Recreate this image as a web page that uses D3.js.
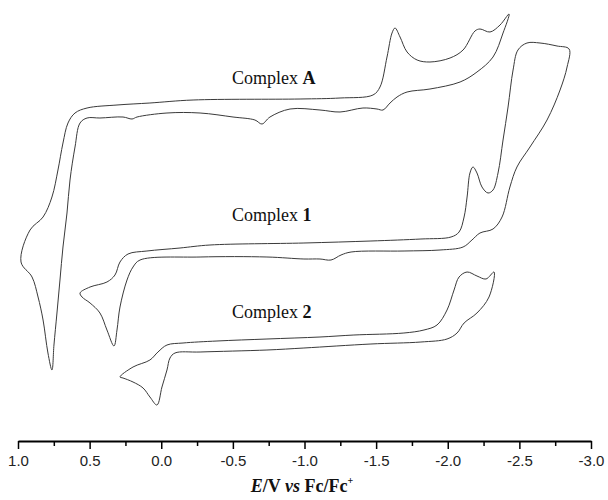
<!DOCTYPE html>
<html lang="en">
<head>
<meta charset="utf-8">
<script src="https://d3js.org/d3.v7.min.js"></script>
<style>
  body { margin: 0; background: #fff; }
  svg { display: block; }
</style>
</head>
<body>
<script>

// potential axis ticks (V vs Fc/Fc+)
const majorTicks = [1.0, 0.5, 0.0, -0.5, -1.0, -1.5, -2.0, -2.5, -3.0];
const minorTicks = [0.75, 0.25, -0.25, -0.75, -1.25, -1.75, -2.25, -2.75];

// voltammograms, [E, current] with the stacking offset included (arbitrary units)
const complexA = [
  [0.979, 17.8], [0.916, 21.0], [0.825, 22.3], [0.763, 24.3], [0.721, 27.0], [0.686, 29.7],
  [0.651, 31.7], [0.602, 32.7], [0.518, 33.2], [0.309, 33.5], [0.079, 33.7], [-0.222, 34.0],
  [-0.969, 34.1], [-1.248, 34.2], [-1.478, 34.5], [-1.527, 35.3], [-1.576, 38.3], [-1.611, 40.7],
  [-1.632, 41.2], [-1.667, 40.3], [-1.716, 38.8], [-1.786, 38.0], [-1.876, 37.8], [-2.016, 38.2],
  [-2.107, 39.0], [-2.190, 40.9], [-2.225, 41.1], [-2.295, 40.8], [-2.365, 41.5], [-2.428, 42.6],
  [-2.386, 40.7], [-2.316, 38.3], [-2.204, 36.8], [-2.086, 35.8], [-1.876, 35.1], [-1.716, 34.8],
  [-1.646, 34.3], [-1.597, 33.7], [-1.548, 33.0], [-1.506, 33.1], [-1.408, 33.2], [-1.248, 32.8],
  [-1.108, 33.0], [-0.899, 33.1], [-0.759, 32.3], [-0.703, 31.6], [-0.654, 32.0], [-0.501, 32.3],
  [-0.271, 32.7], [-0.040, 32.7], [0.169, 32.3], [0.204, 32.1], [0.267, 32.3], [0.428, 32.2],
  [0.518, 32.2], [0.567, 31.7], [0.602, 29.3], [0.637, 26.0], [0.658, 22.7], [0.686, 19.3],
  [0.707, 16.0], [0.728, 12.7], [0.749, 9.5], [0.763, 7.0], [0.791, 8.7], [0.825, 12.0],
  [0.860, 14.3], [0.902, 16.3]
];

const complex1 = [
  [0.567, 14.7], [0.497, 15.3], [0.379, 15.8], [0.323, 16.5], [0.288, 17.8], [0.232, 18.6],
  [0.100, 18.9], [-0.131, 19.2], [-0.340, 19.5], [-0.996, 19.7], [-1.464, 19.9], [-1.813, 20.1],
  [-2.023, 20.3], [-2.079, 20.8], [-2.114, 22.3], [-2.135, 24.3], [-2.155, 26.7], [-2.176, 27.3],
  [-2.204, 26.7], [-2.239, 25.3], [-2.281, 24.7], [-2.316, 25.0], [-2.351, 26.7], [-2.386, 30.0],
  [-2.421, 33.3], [-2.456, 37.0], [-2.490, 39.0], [-2.553, 39.7], [-2.644, 39.7], [-2.763, 39.4],
  [-2.847, 39.1], [-2.833, 37.3], [-2.784, 35.0], [-2.693, 32.0], [-2.574, 29.3], [-2.483, 27.3],
  [-2.434, 25.3], [-2.379, 22.3], [-2.316, 21.1], [-2.225, 20.7], [-2.169, 20.0], [-2.107, 19.3],
  [-1.946, 19.0], [-1.695, 18.9], [-1.325, 18.8], [-1.255, 18.5], [-1.185, 18.0], [-1.108, 18.1],
  [-0.996, 18.1], [-0.738, 18.3], [-0.271, 18.3], [0.148, 18.0], [0.197, 17.3], [0.239, 16.0],
  [0.288, 13.3], [0.309, 11.0], [0.330, 9.4], [0.379, 11.0], [0.428, 12.7], [0.497, 13.7],
  [0.553, 14.3]
];

const complex2 = [
  [0.288, 6.3], [0.197, 7.3], [0.079, 8.0], [0.023, 8.8], [-0.040, 9.5], [-0.152, 9.7],
  [-0.389, 9.9], [-0.738, 10.1], [-1.108, 10.3], [-1.345, 10.5], [-1.694, 10.7], [-1.834, 11.0],
  [-1.925, 11.5], [-1.995, 13.0], [-2.044, 15.0], [-2.079, 16.3], [-2.135, 16.8], [-2.204, 16.4],
  [-2.267, 16.1], [-2.323, 16.8], [-2.288, 14.3], [-2.204, 12.7], [-2.114, 11.7], [-2.065, 10.7],
  [-1.995, 10.1], [-1.813, 9.8], [-1.464, 9.6], [-0.996, 9.2], [-0.738, 9.0], [-0.271, 8.8],
  [-0.096, 8.7], [-0.061, 8.2], [-0.040, 7.0], [-0.005, 5.3], [0.030, 3.5], [0.079, 4.3],
  [0.127, 5.2], [0.197, 5.8], [0.267, 6.2]
];

const curveNames = ["A", "1", "2"];
const labelE = [-0.494, -0.494, -0.494];
const labelI = [35.6, 21.9, 12.2];

const width = 608, height = 500;

const svg = d3.select("body").append("svg")
  .attr("width", width)
  .attr("height", height);

const x = d3.scaleLinear().domain([1.0, -3.0]).range([18, 591]);
const y = d3.scaleLinear().domain([0, 44]).range([440, 0]);

const line = d3.line()
  .x(d => x(d[0]))
  .y(d => y(d[1]))
  .curve(d3.curveCatmullRomClosed.alpha(0.5));

svg.selectAll("path.cv")
  .data([complexA, complex1, complex2])
  .enter()
  .append("path")
  .attr("class", "cv")
  .attr("fill", "none")
  .attr("stroke", "#3a3a3a")
  .attr("stroke-width", 1)
  .attr("d", line);

// curve labels
const lab = svg.selectAll("text.lab")
  .data(curveNames)
  .enter()
  .append("text")
  .attr("class", "lab")
  .attr("x", (d, i) => x(labelE[i]))
  .attr("y", (d, i) => y(labelI[i]))
  .attr("font-family", "'Liberation Serif', 'Times New Roman', serif")
  .attr("font-size", 18)
  .attr("fill", "#111");
lab.append("tspan").text("Complex ");
lab.append("tspan").attr("font-weight", "bold").text(d => d);

// x axis
const axisY = 441;
svg.append("g")
  .attr("transform", "translate(0," + axisY + ")")
  .call(d3.axisBottom(x).tickValues(minorTicks).tickSize(5).tickFormat(""))
  .call(g => g.select(".domain").remove())
  .call(g => g.selectAll("line").attr("stroke", "#000").attr("stroke-width", 1.5));

const ax = svg.append("g")
  .attr("transform", "translate(0," + axisY + ")")
  .call(d3.axisBottom(x).tickValues(majorTicks).tickSize(8).tickSizeOuter(0)
    .tickPadding(6).tickFormat(d => d.toFixed(1)));
ax.select(".domain").attr("stroke", "#000").attr("stroke-width", 2);
ax.selectAll("line").attr("stroke", "#000").attr("stroke-width", 1.5);
ax.selectAll("text")
  .attr("font-family", "'Liberation Sans', Arial, sans-serif")
  .attr("font-size", 15)
  .attr("fill", "#222");

// axis title
const title = svg.append("text")
  .attr("x", 302)
  .attr("y", 492)
  .attr("text-anchor", "middle")
  .attr("font-family", "'Liberation Serif', 'Times New Roman', serif")
  .attr("font-size", 18)
  .attr("font-weight", "bold")
  .attr("fill", "#111");
title.append("tspan").attr("font-style", "italic").text("E");
title.append("tspan").text("/V ");
title.append("tspan").attr("font-style", "italic").text("vs");
title.append("tspan").text(" Fc/Fc");
title.append("tspan").attr("font-size", 10).attr("dy", -8).text("+");

</script>
</body>
</html>
